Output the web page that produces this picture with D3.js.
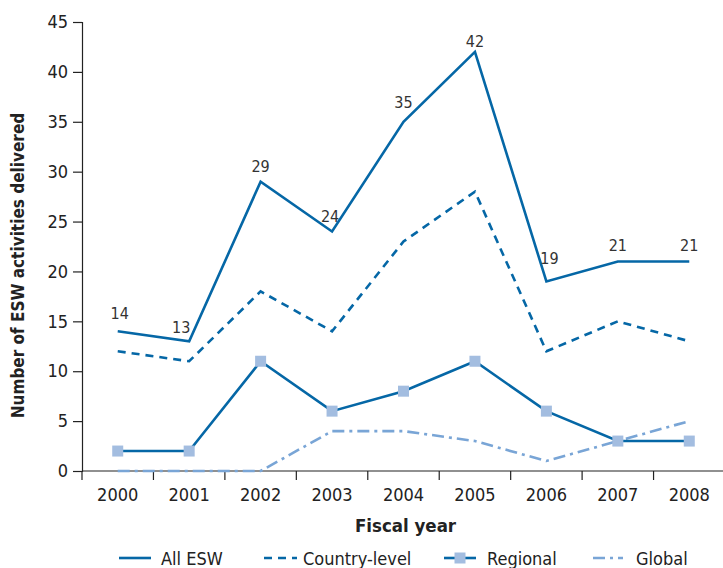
<!DOCTYPE html>
<html>
<head>
<meta charset="utf-8">
<script src="https://cdn.jsdelivr.net/npm/d3@7"></script>
<style>
  html, body { margin: 0; padding: 0; background: #fff; }
  svg text { font-family: "DejaVu Sans Condensed", "Liberation Sans Narrow", sans-serif; fill: #222; }
</style>
</head>
<body>
<svg id="chart" width="723" height="568"></svg>
<script>
// ESW activities delivered by fiscal year
const years = ["2000", "2001", "2002", "2003", "2004", "2005", "2006", "2007", "2008"];
const allESW = [14, 13, 29, 24, 35, 42, 19, 21, 21];
const countryLevel = [12, 11, 18, 14, 23, 28, 12, 15, 13];
const regional = [2, 2, 11, 6, 8, 11, 6, 3, 3];
const global = [0, 0, 0, 4, 4, 3, 1, 3, 5];
const yTicks = [0, 5, 10, 15, 20, 25, 30, 35, 40, 45];

const dark = "#0567a6";
const marker = "#a3bde0";
const light = "#79a5d6";

const svg = d3.select("#chart");
const plotLeft = 82, plotRight = 725, plotTop = 22, plotBottom = 471;

const x = d3.scaleBand().domain(years).range([plotLeft, plotRight]);
const y = d3.scaleLinear().domain([0, 45]).range([plotBottom, plotTop]);
const cx = d => x(d) + x.bandwidth() / 2;

// y axis
const yAxis = svg.append("g").attr("transform", `translate(${plotLeft},0)`)
  .call(d3.axisLeft(y).tickValues(yTicks).tickSize(9).tickPadding(5));
yAxis.selectAll("text").style("font-size", "18px");
yAxis.select(".domain").attr("stroke", "#222").attr("stroke-width", 1.2);
yAxis.selectAll(".tick line").attr("stroke", "#222").attr("stroke-width", 1.2);

// x axis: ticks mark the boundaries between years
const xAxis = svg.append("g").attr("transform", `translate(0,${plotBottom})`);
xAxis.append("line").attr("x1", plotLeft).attr("x2", plotRight).attr("stroke", "#222").attr("stroke-width", 1.2);
xAxis.selectAll("line.tick").data(years).join("line").attr("class", "tick")
  .attr("x1", d => x(d)).attr("x2", d => x(d)).attr("y1", 0).attr("y2", 9)
  .attr("stroke", "#222").attr("stroke-width", 1.2);
xAxis.selectAll("text").data(years).join("text")
  .attr("x", d => cx(d)).attr("y", 30).attr("text-anchor", "middle")
  .style("font-size", "18px").text(d => d);

// axis titles
svg.append("text").attr("transform", `translate(24,${(plotTop + plotBottom) / 2 + 19}) rotate(-90)`)
  .attr("text-anchor", "middle").style("font-size", "17px").style("font-weight", "bold")
  .text("Number of ESW activities delivered");
svg.append("text").attr("x", (plotLeft + plotRight) / 2 + 2).attr("y", 532).attr("text-anchor", "middle")
  .style("font-size", "18.5px").style("font-weight", "bold").text("Fiscal year");

const line = d3.line().x((d, i) => cx(years[i])).y(d => y(d));

const series = [
  { name: "All ESW", values: allESW, color: dark, dash: null },
  { name: "Country-level", values: countryLevel, color: dark, dash: "8,6" },
  { name: "Regional", values: regional, color: dark, dash: null, markers: true },
  { name: "Global", values: global, color: light, dash: "12,5,3,5" }
];

series.slice().reverse().forEach(s => {
  svg.append("path").datum(s.values).attr("d", line)
    .attr("fill", "none").attr("stroke", s.color).attr("stroke-width", 2.6)
    .attr("stroke-dasharray", s.dash);
  if (s.markers) {
    svg.selectAll(null).data(s.values).join("rect")
      .attr("x", (d, i) => cx(years[i]) - 5.5).attr("y", d => y(d) - 5.5)
      .attr("width", 11).attr("height", 11).attr("fill", marker);
  }
});

// value labels on All ESW, a few nudged clear of the line
const labelNudge = { "2000": [2, -2], "2001": [-8, 2], "2003": [-2, 0], "2004": [0, -4], "2005": [0, 5], "2006": [3, -7] };
svg.selectAll("text.val").data(allESW).join("text").attr("class", "val")
  .attr("x", (d, i) => cx(years[i]) + (labelNudge[years[i]] || [0, 0])[0])
  .attr("y", (d, i) => y(d) - 10 + (labelNudge[years[i]] || [0, 0])[1])
  .attr("text-anchor", "middle").style("font-size", "16px").style("fill", "#333")
  .text(d => d);

// legend
const legend = [
  { s: series[0], x1: 119, x2: 151, tx: 161 },
  { s: series[1], x1: 264, x2: 297, tx: 303 },
  { s: series[2], x1: 444, x2: 476, tx: 487 },
  { s: series[3], x1: 593, x2: 623, tx: 636 }
];
const ly = 558;
legend.forEach(l => {
  svg.append("line").attr("x1", l.x1).attr("x2", l.x2).attr("y1", ly).attr("y2", ly)
    .attr("stroke", l.s.color).attr("stroke-width", 2.6).attr("stroke-dasharray", l.s.dash);
  if (l.s.markers) {
    svg.append("rect").attr("x", (l.x1 + l.x2) / 2 - 5.5).attr("y", ly - 5.5)
      .attr("width", 11).attr("height", 11).attr("fill", marker);
  }
  svg.append("text").attr("x", l.tx).attr("y", ly + 7).style("font-size", "18px").text(l.s.name);
});
</script>
</body>
</html>
